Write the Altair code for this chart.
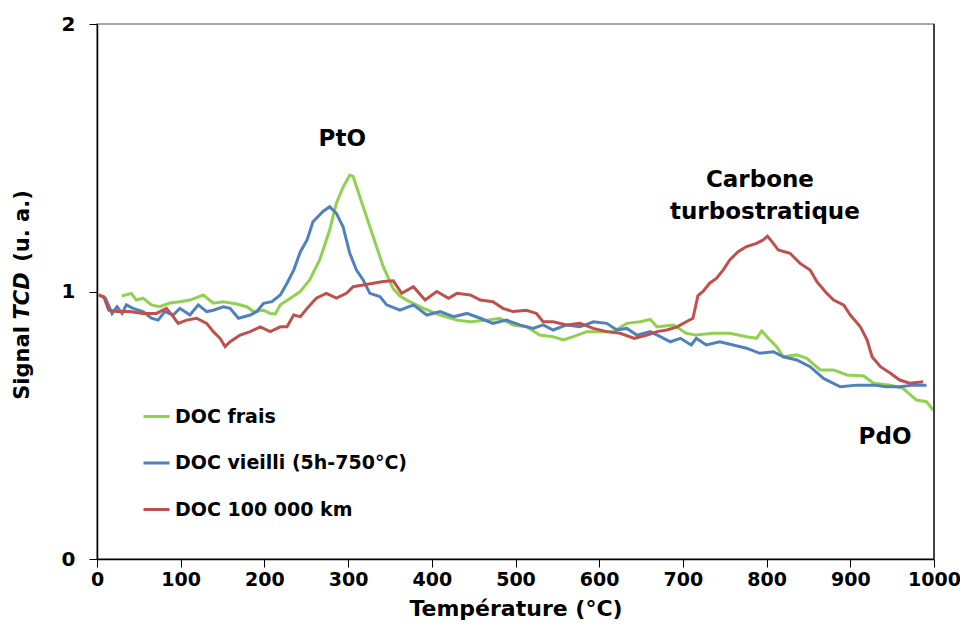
import altair as alt
import pandas as pd

# ---- data ----
series_names = ["DOC frais", "DOC vieilli (5h-750°C)", "DOC 100 000 km"]
series_colors = ["#92D050", "#4F81BD", "#C0504D"]

T_frais = [29.5, 41, 47, 55, 65, 75, 87, 99, 111, 127, 139, 151, 167, 179, 187, 199, 207, 213, 219, 231,
           243, 254, 266, 278, 286, 294, 302, 306, 318, 330, 342, 354, 362, 370, 390, 410, 430, 446, 466, 481,
           497, 513, 529, 545, 557, 569, 585, 601, 617, 633, 649, 661, 669, 689, 704, 716, 736, 756, 776, 788,
           794, 802, 812, 820, 836, 848, 864, 880, 896, 916, 928, 948, 963, 979, 991, 999]
v_frais = [0.983, 0.993, 0.968, 0.975, 0.95, 0.943, 0.957, 0.962, 0.968, 0.987, 0.956, 0.962, 0.953, 0.943,
           0.925, 0.93, 0.918, 0.916, 0.95, 0.975, 1.0, 1.043, 1.118, 1.23, 1.33, 1.39, 1.435, 1.43, 1.317,
           1.205, 1.093, 1.01, 0.983, 0.968, 0.937, 0.912, 0.893, 0.887, 0.893, 0.9, 0.875, 0.868, 0.837,
           0.831, 0.819, 0.831, 0.85, 0.85, 0.85, 0.881, 0.887, 0.896, 0.868, 0.875, 0.844, 0.837, 0.844,
           0.844, 0.831, 0.825, 0.853, 0.825, 0.794, 0.756, 0.763, 0.75, 0.707, 0.707, 0.688, 0.684, 0.657,
           0.65, 0.638, 0.594, 0.588, 0.557]

T_vieilli = [2, 10, 18, 24, 30, 35, 43, 55, 65, 73, 81, 91, 99, 111, 121, 131, 139, 151, 159, 169, 183, 191,
             199, 209, 219, 227, 235, 243, 251, 258, 270, 278, 286, 294, 302, 310, 318, 326, 338, 346, 362,
             378, 394, 410, 426, 442, 458, 473, 489, 505, 521, 533, 545, 561, 577, 593, 609, 621, 633, 645,
             661, 673, 685, 697, 710, 716, 728, 744, 760, 776, 792, 808, 820, 836, 852, 868, 888, 908, 928,
             943, 959, 975, 991]
v_vieilli = [0.987, 0.975, 0.918, 0.943, 0.918, 0.95, 0.937, 0.925, 0.9, 0.893, 0.925, 0.912, 0.937, 0.912,
             0.95, 0.925, 0.93, 0.943, 0.937, 0.9, 0.912, 0.925, 0.956, 0.962, 0.987, 1.031, 1.08, 1.149,
             1.193, 1.261, 1.299, 1.317, 1.292, 1.242, 1.143, 1.08, 1.043, 0.993, 0.981, 0.95, 0.93, 0.95,
             0.912, 0.925, 0.906, 0.918, 0.9, 0.881, 0.893, 0.875, 0.862, 0.875, 0.856, 0.875, 0.868, 0.887,
             0.881, 0.856, 0.862, 0.837, 0.85, 0.831, 0.812, 0.825, 0.8, 0.825, 0.8, 0.812, 0.8, 0.788,
             0.769, 0.775, 0.756, 0.744, 0.719, 0.675, 0.644, 0.65, 0.65, 0.644, 0.644, 0.65, 0.65]

T_100k = [2, 8, 14, 24, 39, 55, 71, 83, 91, 97, 107, 119, 131, 139, 147, 153, 159, 171, 183, 195, 207, 219,
          227, 235, 243, 251, 262, 274, 286, 298, 306, 318, 330, 342, 354, 364, 378, 392, 406, 420, 430, 446,
          458, 473, 485, 497, 513, 525, 533, 545, 561, 577, 593, 609, 625, 642, 657, 669, 681, 693, 704, 712,
          718, 724, 732, 740, 748, 756, 766, 776, 788, 796, 801, 808, 814, 828, 840, 852, 860, 872, 880, 892,
          900, 912, 920, 926, 936, 948, 959, 971, 987]
v_100k = [0.987, 0.981, 0.93, 0.925, 0.925, 0.918, 0.918, 0.937, 0.906, 0.881, 0.893, 0.9, 0.881, 0.85,
          0.825, 0.794, 0.812, 0.837, 0.85, 0.868, 0.85, 0.868, 0.868, 0.912, 0.906, 0.937, 0.975, 0.993,
          0.975, 0.993, 1.018, 1.024, 1.031, 1.037, 1.04, 0.993, 1.018, 0.968, 1.0, 0.975, 0.993, 0.987,
          0.968, 0.962, 0.937, 0.925, 0.93, 0.918, 0.887, 0.887, 0.875, 0.881, 0.862, 0.85, 0.844, 0.825,
          0.837, 0.85, 0.856, 0.868, 0.887, 0.9, 0.985, 1.0, 1.031, 1.049, 1.08, 1.118, 1.149, 1.168, 1.18,
          1.193, 1.207, 1.18, 1.155, 1.143, 1.105, 1.08, 1.037, 0.993, 0.968, 0.95, 0.912, 0.868, 0.819,
          0.756, 0.719, 0.694, 0.669, 0.657, 0.663]

x_ticks = [0, 100, 200, 300, 400, 500, 600, 700, 800, 900, 1000]
y_tick_count = 2  # gives ticks 0, 1, 2

ann_labels = ["PtO", "Carbone", "turbostratique", "PdO"]
ann_T = [293, 792, 798, 941.5]
ann_v = [1.57, 1.417, 1.297, 0.456]

FONT = "DejaVu Sans"
W, H = 837, 535

rows = []
for name, Ts, vs in zip(series_names, [T_frais, T_vieilli, T_100k], [v_frais, v_vieilli, v_100k]):
    for i, (t, v) in enumerate(zip(Ts, vs)):
        rows.append({"serie": name, "T": t, "v": v, "i": i})
df = pd.DataFrame(rows)
annotations = pd.DataFrame({"label": ann_labels, "T": ann_T, "v": ann_v})

xscale = alt.Scale(domain=[0, 1000], nice=False, zero=False)
yscale = alt.Scale(domain=[0, 2], nice=False, zero=False)
x_axis = alt.Axis(values=x_ticks, format="d", labelFlush=False, labelOverlap=False,
                  titlePadding=9, labelPadding=3, titleFontSize=22, labelFontSize=19)
y_axis = alt.Axis(tickCount=y_tick_count, format="d", labelPadding=14, labelOverlap=False,
                  labelFlush=False)

lines = alt.Chart(df).mark_line(strokeWidth=3).encode(
    x=alt.X("T:Q", scale=xscale, title="Température (°C)", axis=x_axis),
    y=alt.Y("v:Q", scale=yscale, title=None, axis=y_axis),
    color=alt.Color("serie:N", sort=series_names,
                    scale=alt.Scale(domain=series_names, range=series_colors),
                    legend=alt.Legend(title=None, orient="none", legendX=45, legendY=378,
                                      symbolType="stroke", symbolSize=676, symbolStrokeWidth=3,
                                      labelFont=FONT, labelFontWeight="bold", labelFontSize=19,
                                      labelColor="black", labelOffset=4, rowPadding=21.5,
                                      labelLimit=400)),
    order="i:Q",
)

ann = alt.Chart(annotations).mark_text(font=FONT, fontWeight="bold", fontSize=23, color="black",
                                       align="center", baseline="middle").encode(
    x=alt.X("T:Q", scale=xscale, title="Température (°C)", axis=x_axis),
    y=alt.Y("v:Q", scale=yscale, title=None, axis=y_axis),
    text="label:N")

yt1 = alt.Chart(pd.DataFrame({"txt": ["Signal"]})).mark_text(
    font=FONT, fontWeight="bold", fontSize=21, angle=270, align="center", baseline="middle",
    color="black").encode(x=alt.value(-74), y=alt.value(339), text="txt:N")
yt2 = alt.Chart(pd.DataFrame({"txt": ["TCD"]})).mark_text(
    font=FONT, fontWeight="bold", fontStyle="italic", fontSize=21, angle=270, align="center",
    baseline="middle", color="black").encode(x=alt.value(-74), y=alt.value(272), text="txt:N")
yt3 = alt.Chart(pd.DataFrame({"txt": ["(u. a.)"]})).mark_text(
    font=FONT, fontWeight="bold", fontSize=21, angle=270, align="center", baseline="middle",
    color="black").encode(x=alt.value(-74), y=alt.value(202), text="txt:N")

right_border = alt.Chart(pd.DataFrame({"a": [0]})).mark_rule(color="#222222", strokeWidth=1.5).encode(
    x=alt.value(W), y=alt.value(0), y2=alt.value(H))

chart = alt.layer(lines, ann, yt1, yt2, yt3, right_border).properties(
    width=W, height=H,
    autosize=alt.AutoSizeParams(type="none"),
    padding={"left": 89, "top": 16, "right": 26, "bottom": 62},
    background="white",
).configure_view(stroke="#8c8c8c", strokeWidth=1.5).configure_axis(
    grid=False, domainColor="black", domainWidth=1.5, tickColor="black", tickSize=8, tickWidth=1,
    labelFont=FONT, labelFontWeight="bold", labelFontSize=20, labelColor="black",
    titleFont=FONT, titleFontWeight="bold", titleFontSize=20, titleColor="black",
)

chart.save("out.html", embed_options={"renderer": "svg", "actions": False})
